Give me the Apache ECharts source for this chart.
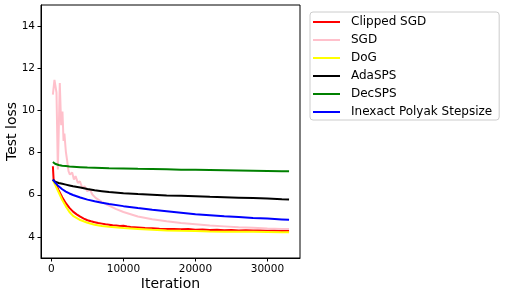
<!DOCTYPE html>
<html>
<head>
<meta charset="utf-8">
<style>html,body{margin:0;padding:0;background:#fff;}#c{width:506px;height:297px;}</style>
<script src="https://cdn.jsdelivr.net/npm/echarts@6/dist/echarts.min.js"></script>
</head>
<body>
<div id="c"></div>
<script>
const seriesNames = ['Clipped SGD', 'SGD', 'DoG', 'AdaSPS', 'DecSPS', 'Inexact Polyak Stepsize'];
const xTicks = [0, 10000, 20000, 30000];
const yTicks = [4, 6, 8, 10, 12, 14];

const iters = [200, 500, 1000, 1500, 2000, 2500, 3000, 4000, 5000, 6000, 7000, 8000, 10000, 12000, 14000, 16000, 18000, 20000, 22000, 24000, 26000, 28000, 30000, 32000, 33000];
const dog    = [6.68, 6.48, 6.12, 5.75, 5.45, 5.18, 5.00, 4.80, 4.67, 4.58, 4.52, 4.48, 4.42, 4.38, 4.34, 4.31, 4.29, 4.28, 4.26, 4.25, 4.24, 4.24, 4.23, 4.22, 4.22];
const adasps = [6.72, 6.62, 6.56, 6.52, 6.48, 6.44, 6.40, 6.34, 6.27, 6.21, 6.17, 6.13, 6.07, 6.03, 6.00, 5.97, 5.95, 5.93, 5.90, 5.88, 5.86, 5.84, 5.82, 5.79, 5.78];
const decsps = [7.55, 7.47, 7.41, 7.38, 7.36, 7.34, 7.33, 7.31, 7.29, 7.28, 7.27, 7.26, 7.25, 7.23, 7.22, 7.21, 7.19, 7.18, 7.17, 7.16, 7.15, 7.14, 7.13, 7.12, 7.11];
const polyak = [6.72, 6.58, 6.40, 6.26, 6.15, 6.06, 5.99, 5.87, 5.77, 5.69, 5.62, 5.56, 5.46, 5.37, 5.29, 5.22, 5.15, 5.08, 5.03, 4.98, 4.94, 4.90, 4.87, 4.83, 4.81];

const clipIters = [200, 300, 500, 1000, 1250, 1500, 2000, 2500, 3000, 3500, 4000, 4500, 5000, 5500, 6000, 6500, 7000, 7500, 8000, 8500, 9000, 9500, 10000, 10500, 11000, 11500, 12000, 13000, 14000, 15000, 16000, 17000, 18000, 19000, 20000, 21000, 22000, 23000, 24000, 25000, 26000, 27000, 28000, 29000, 30000, 31000, 32000, 33000];
const clipped = [7.35, 6.72, 6.58, 6.22, 6.05, 5.88, 5.60, 5.38, 5.20, 5.07, 4.96, 4.87, 4.79, 4.74, 4.70, 4.66, 4.63, 4.60, 4.58, 4.55, 4.54, 4.52, 4.53, 4.49, 4.47, 4.46, 4.45, 4.42, 4.41, 4.39, 4.38, 4.37, 4.36, 4.37, 4.34, 4.35, 4.33, 4.34, 4.32, 4.33, 4.31, 4.32, 4.30, 4.31, 4.29, 4.30, 4.28, 4.29];

const sgdIters = [200, 420, 700, 890, 1000, 1160, 1350, 1530, 1680, 1800, 2000, 2190, 2370, 2560, 2880, 3120, 3350, 3670, 3950, 4280, 4600, 4980, 5350, 5680, 6140, 6840, 7770, 9000, 10000, 12000, 14000, 16000, 18000, 20000, 22000, 24000, 26000, 28000, 30000, 32000, 33000];
const sgd = [10.75, 11.45, 10.85, 7.2, 8.8, 11.3, 9.3, 9.95, 8.55, 8.9, 8.05, 7.6, 7.12, 6.96, 7.05, 6.72, 6.88, 6.56, 6.64, 6.33, 6.40, 6.17, 6.25, 6.01, 5.85, 5.70, 5.52, 5.32, 5.18, 4.97, 4.84, 4.74, 4.66, 4.60, 4.54, 4.50, 4.46, 4.43, 4.40, 4.38, 4.37];

const colors = ['#ff0000', '#ffc0cb', '#ffff00', '#000000', '#008000', '#0000ff'];

function pairs(xs, ys) { return xs.map((x, i) => [x, ys[i]]); }
const seriesData = [
  pairs(clipIters, clipped),
  pairs(sgdIters, sgd),
  pairs(iters, dog),
  pairs(iters, adasps),
  pairs(iters, decsps),
  pairs(iters, polyak)
];

const font = 'DejaVu Sans';
const chart = echarts.init(document.getElementById('c'), null, {renderer: 'canvas'});
chart.setOption({
  animation: false,
  backgroundColor: '#fff',
  textStyle: {fontFamily: font},
  grid: {left: 41, right: 206, top: 5, bottom: 39, containLabel: false, outerBoundsMode: 'none', show: true, borderColor: '#000', borderWidth: 1, backgroundColor: 'transparent'},
  legend: {
    orient: 'vertical', left: 310, top: 12,
    data: seriesNames,
    icon: 'rect',
    itemWidth: 27, itemHeight: 2, itemGap: 6,
    padding: [4, 7, 2, 3],
    borderColor: '#cccccc', borderWidth: 1, borderRadius: 3,
    backgroundColor: 'rgba(255,255,255,0.8)',
    textStyle: {fontFamily: font, fontSize: 12, color: '#000', lineHeight: 12, padding: [0, 0, 0, 6]}
  },
  xAxis: {
    type: 'value', min: -1450, max: 34520,
    name: 'Iteration', nameLocation: 'middle', nameGap: 19, nameMoveOverlap: false,
    nameTextStyle: {fontFamily: font, fontSize: 14, color: '#000'},
    axisLine: {show: true, onZero: false, lineStyle: {color: '#000', width: 1}},
    axisTick: {show: true, length: 3.5, lineStyle: {color: '#000', width: 1}, customValues: xTicks},
    axisLabel: {fontFamily: font, fontSize: 10.5, color: '#000', margin: 6, customValues: xTicks, formatter: v => String(v)},
    splitLine: {show: false}
  },
  yAxis: {
    type: 'value', min: 3, max: 15,
    name: 'Test loss', nameLocation: 'middle', nameGap: 22, nameMoveOverlap: false,
    nameTextStyle: {fontFamily: font, fontSize: 14, color: '#000'},
    axisLine: {show: true, onZero: false, lineStyle: {color: '#000', width: 1}},
    axisTick: {show: true, length: 3.5, lineStyle: {color: '#000', width: 1}, customValues: yTicks},
    axisLabel: {fontFamily: font, fontSize: 10.5, color: '#000', margin: 6, customValues: yTicks, formatter: v => String(v)},
    splitLine: {show: false}
  },
  series: seriesNames.map((n, i) => ({
    name: n, type: 'line', data: seriesData[i],
    showSymbol: false, symbol: 'none', smooth: false,
    lineStyle: {color: colors[i], width: 2},
    itemStyle: {color: colors[i]},
    z: 2 + i
  }))
});
</script>
</body>
</html>
